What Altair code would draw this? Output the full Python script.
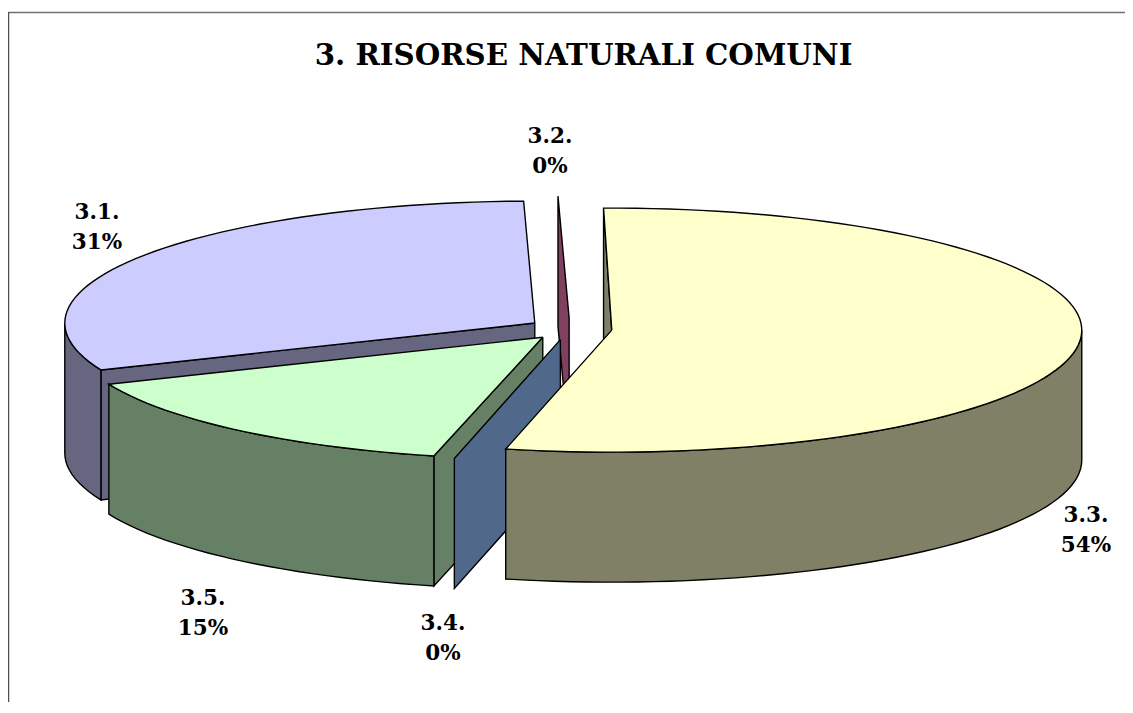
import math
import altair as alt
import pandas as pd

# ---- chart values ----
slices = ["3.3.", "3.4.", "3.5.", "3.1.", "3.2."]
shares = [53.9, 0.1, 15.0, 30.9, 0.1]
top_colors = ["#FFFFCC", "#A6CAF0", "#CCFFCC", "#CCCCFF", "#FF80C0"]
wall_colors = ["#808066", "#50688A", "#668066", "#666680", "#804060"]
title = "3. RISORSE NATURALI COMUNI"

# ---- layout (page pixels used as scale units) ----
W, H = 1117, 694
CX, CY, A, B, DEPTH, EXPLODE = 570, 329, 470, 122, 130, 42
START_ANGLE = -1.0
label_anchor = {"3.1.": (97, 228), "3.2.": (550, 152), "3.3.": (1086, 531),
                "3.4.": (443, 639), "3.5.": (203, 614)}
LINE_GAP = 15
draw_order = ["3.2.", "3.1.", "3.5.", "3.4.", "3.3."]

x_scale = alt.Scale(domain=[8, 8 + W], range=[0, W], nice=False, zero=False)
y_scale = alt.Scale(domain=[8, 8 + H], range=[0, H], nice=False, zero=False)


def pt(cx, cy, deg):
    r = math.radians(deg)
    return cx + A * math.sin(r), cy - B * math.cos(r)


def arc(cx, cy, a0, a1, step=2.0):
    n = max(1, int(abs(a1 - a0) / step))
    return [pt(cx, cy, a0 + (a1 - a0) * i / n) for i in range(n + 1)]


def polygon(points, fill):
    closed = list(points) + [points[0]]
    df = pd.DataFrame(
        {"px": [p[0] for p in closed], "py": [p[1] for p in closed], "o": range(len(closed))}
    )
    return (
        alt.Chart(df)
        .mark_line(fill=fill, stroke="#000000", strokeWidth=1.4, strokeJoin="miter")
        .encode(
            x=alt.X("px:Q", scale=x_scale, axis=None),
            y=alt.Y("py:Q", scale=y_scale, axis=None),
            order="o:Q",
        )
    )


geom = {}
angle = START_ANGLE
total = sum(shares)
for name, val, tc, wc in zip(slices, shares, top_colors, wall_colors):
    a0, a1 = angle, angle + val / total * 360
    angle = a1
    mid = math.radians((a0 + a1) / 2)
    geom[name] = dict(
        a0=a0, a1=a1,
        cx=CX + EXPLODE * math.sin(mid),
        cy=CY - EXPLODE * math.cos(mid) * B / A,
        tc=tc, wc=wc,
    )


def radial_wall(g, deg):
    rim = pt(g["cx"], g["cy"], deg)
    apex = (g["cx"], g["cy"])
    return polygon([apex, rim, (rim[0], rim[1] + DEPTH), (apex[0], apex[1] + DEPTH)], g["wc"])


layers = []
for name in draw_order:
    g = geom[name]
    layers.append(radial_wall(g, g["a0"]))
    if g["a1"] - g["a0"] > 2:  # slices near 0% have no visible rim or top
        lo, hi = max(g["a0"], 90), min(g["a1"], 270)
        rim = arc(g["cx"], g["cy"], lo, hi)
        layers.append(polygon(rim + [(x, y + DEPTH) for x, y in rim][::-1], g["wc"]))
        layers.append(polygon([(g["cx"], g["cy"])] + arc(g["cx"], g["cy"], g["a0"], g["a1"]), g["tc"]))

rows = []
for name, val in zip(slices, shares):
    lx, ly = label_anchor[name]
    rows.append({"px": lx, "py": ly - LINE_GAP, "t": name})
    rows.append({"px": lx, "py": ly + LINE_GAP, "t": f"{round(val)}%"})
labels = (
    alt.Chart(pd.DataFrame(rows))
    .mark_text(font="DejaVu Serif", fontWeight="bold", fontSize=21.5, color="#000000")
    .encode(
        x=alt.X("px:Q", scale=x_scale, axis=None),
        y=alt.Y("py:Q", scale=y_scale, axis=None),
        text="t:N",
    )
)

# frame: top and left edges only
frame_top = alt.Chart(pd.DataFrame({"a": [0]})).mark_rule(color="#707070", strokeWidth=1.5).encode(
    x=alt.value(0.5), x2=alt.value(W), y=alt.value(4.5)
)
frame_left = alt.Chart(pd.DataFrame({"a": [0]})).mark_rule(color="#505050", strokeWidth=1.5).encode(
    x=alt.value(0.5), y=alt.value(4), y2=alt.value(H)
)

chart = (
    alt.layer(frame_top, frame_left, *layers, labels)
    .properties(
        width=W,
        height=H,
        padding=0,
        autosize=alt.AutoSizeParams(type="none"),
        title=alt.TitleParams(
            text=title, font="DejaVu Serif", fontWeight="bold", fontSize=29.3, color="#000000",
            anchor="middle", baseline="middle", offset=0, dy=77, dx=17,
        ),
    )
    .configure_view(stroke=None)
)

chart.save("out.html", embed_options={"renderer": "svg", "actions": False})
